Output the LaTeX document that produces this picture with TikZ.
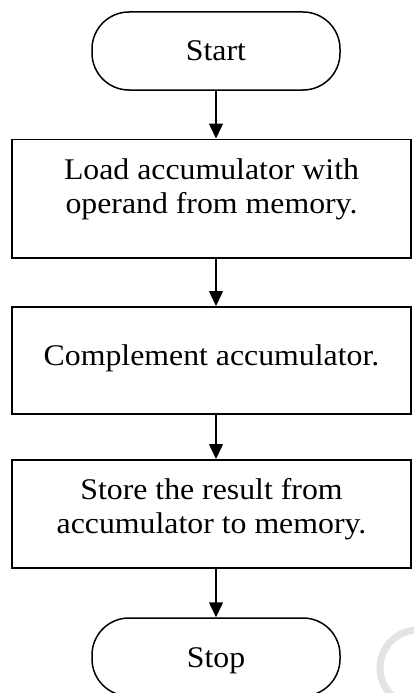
\documentclass[tikz,border=0pt]{standalone}
\usepackage{fontspec}
\setmainfont{Liberation Serif}[FakeStretch=1.06]
\usetikzlibrary{arrows.meta}

\begin{document}
\begin{tikzpicture}[
      x=1pt, y=-1pt,
      every node/.style={font=\fontsize{30}{34}\selectfont},
      terminal/.style={draw, line width=1.5pt, rounded corners=37pt, minimum width=248pt, minimum height=78pt, inner sep=0pt, text height=20pt, text depth=0pt},
      stepbox/.style={draw, line width=1.5pt, minimum width=399pt, inner sep=0pt, align=center, anchor=north},
      flow/.style={line width=1.5pt, -{Triangle[length=15pt, width=14pt]}}
    ]
    \useasboundingbox (0,0) rectangle (414,693);
    \node[terminal] (start) at (216,51) {Start};
    \node[stepbox, text height=74.5pt, text depth=44pt] (load) at (211.5,138.5) {Load accumulator with\\operand from memory.};
    \node[stepbox, text height=59pt, text depth=48pt] (compl) at (211.5,306) {Complement accumulator.};
    \node[stepbox, text height=74pt, text depth=34pt] (store) at (211.5,459) {Store the result from\\accumulator to memory.};
    \node[terminal] (stop) at (216,657) {Stop};
    \draw[flow] (start.south) -- (start.south |- load.north);
    \draw[flow] (load.south -| start) -- (compl.north -| start);
    \draw[flow] (compl.south -| start) -- (store.north -| start);
    \draw[flow] (store.south -| start) -- (stop.north);
    \draw[gray!22, line width=7pt] (418,668) ++(270:38) arc[start angle=270, end angle=110, radius=38];
\end{tikzpicture}
\end{document}
